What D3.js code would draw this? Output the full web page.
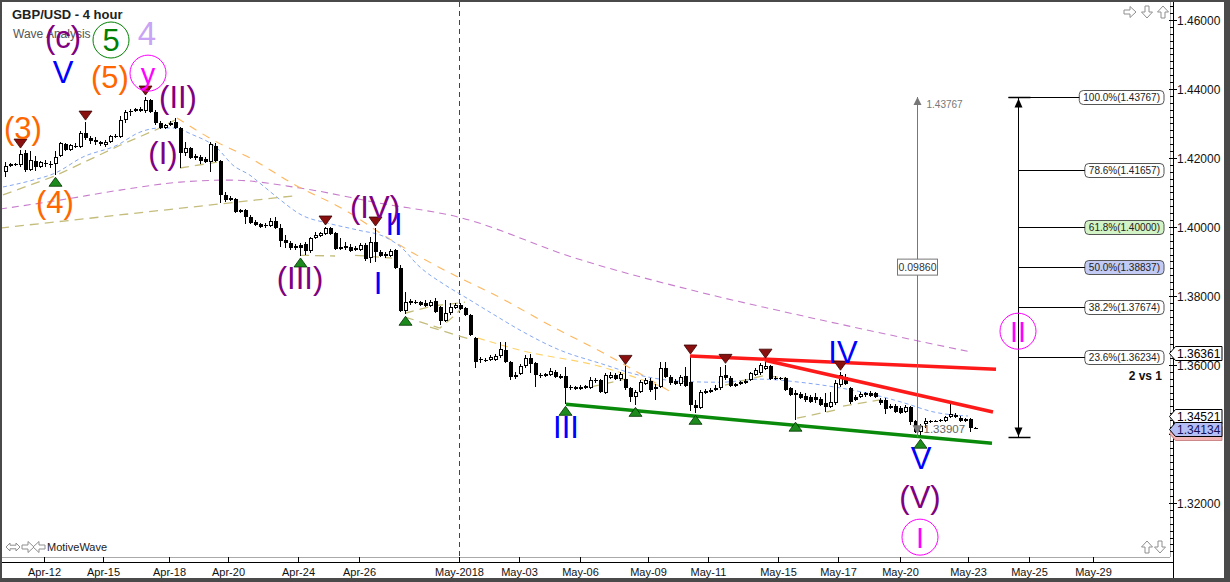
<!DOCTYPE html>
<html><head><meta charset="utf-8">
<script src="https://cdn.jsdelivr.net/npm/d3@7"></script>
<style>
body{margin:0;background:#fff;overflow:hidden}
svg{display:block}
text{font-family:"Liberation Sans",Arial,sans-serif}
</style>
</head><body>
<svg id="c" width="1230" height="582"></svg>
<script>
// ---------------- DATA ----------------
// 4-hour GBP/USD candles [open, high, low, close], oldest first
const ohlc = [
[1.4159,1.4188,1.4145,1.4177],[1.4177,1.4185,1.4174,1.4182],[1.4179,1.4185,1.4177,1.4182],[1.4179,1.4223,1.4174,1.4211],
[1.4214,1.4223,1.4159,1.4165],[1.4165,1.4220,1.4162,1.4194],[1.4191,1.4206,1.4162,1.4174],[1.4174,1.4191,1.4171,1.4188],
[1.4185,1.4194,1.4174,1.4182],[1.4182,1.4191,1.4171,1.4179],[1.4182,1.4220,1.4150,1.4203],[1.4206,1.4246,1.4203,1.4243],
[1.4240,1.4243,1.4220,1.4223],[1.4223,1.4240,1.4220,1.4237],[1.4234,1.4243,1.4229,1.4232],[1.4232,1.4278,1.4229,1.4272],
[1.4272,1.4304,1.4252,1.4258],[1.4258,1.4264,1.4240,1.4249],[1.4252,1.4261,1.4237,1.4246],[1.4246,1.4249,1.4234,1.4240],
[1.4237,1.4252,1.4232,1.4246],[1.4246,1.4267,1.4243,1.4264],[1.4264,1.4269,1.4258,1.4261],[1.4261,1.4322,1.4258,1.4310],
[1.4310,1.4339,1.4301,1.4333],[1.4333,1.4342,1.4322,1.4336],[1.4336,1.4345,1.4333,1.4342],[1.4342,1.4348,1.4333,1.4336],
[1.4336,1.43767,1.4330,1.4368],[1.4368,1.4371,1.4330,1.4333],[1.4333,1.4339,1.4295,1.4301],[1.4301,1.4307,1.4284,1.4287],
[1.4287,1.4298,1.4284,1.4295],[1.4295,1.4307,1.4293,1.4301],[1.4304,1.4316,1.4284,1.4287],[1.4287,1.4290,1.4171,1.4214],
[1.4214,1.4246,1.4206,1.4229],[1.4229,1.4232,1.4197,1.4200],[1.4206,1.4211,1.4194,1.4200],[1.4203,1.4208,1.4182,1.4191],
[1.4197,1.4203,1.4185,1.4188],[1.4188,1.4246,1.4159,1.4240],[1.4234,1.4243,1.4188,1.4191],[1.4191,1.4194,1.4069,1.4093],
[1.4093,1.4101,1.4072,1.4078],[1.4078,1.4090,1.4075,1.4084],[1.4081,1.4084,1.4040,1.4043],[1.4043,1.4052,1.4040,1.4049],
[1.4049,1.4052,1.4008,1.4029],[1.4029,1.4034,1.4008,1.4011],[1.4014,1.4020,1.4003,1.4005],[1.4008,1.4011,1.3997,1.4000],
[1.4003,1.4011,1.3997,1.4005],[1.4003,1.4026,1.4000,1.4017],[1.4017,1.4029,1.3994,1.3997],[1.3997,1.4008,1.3942,1.3959],
[1.3962,1.3977,1.3939,1.3953],[1.3953,1.3959,1.3933,1.3939],[1.3945,1.3950,1.3933,1.3939],[1.3947,1.3953,1.3916,1.3939],
[1.3950,1.3956,1.3918,1.3930],[1.3930,1.3971,1.3924,1.3968],[1.3968,1.3985,1.3965,1.3977],[1.3974,1.3985,1.3971,1.3982],
[1.3979,1.4000,1.3977,1.3997],[1.3997,1.4000,1.3977,1.3979],[1.3982,1.3985,1.3933,1.3936],[1.3942,1.3968,1.3933,1.3936],
[1.3939,1.3956,1.3933,1.3945],[1.3942,1.3950,1.3927,1.3930],[1.3939,1.3945,1.3930,1.3933],[1.3933,1.3953,1.3930,1.3947],
[1.3947,1.3953,1.3901,1.3907],[1.3910,1.3971,1.3895,1.3956],[1.3956,1.3997,1.3898,1.3927],[1.3927,1.3933,1.3913,1.3916],
[1.3921,1.3927,1.3910,1.3916],[1.3916,1.3936,1.3913,1.3930],[1.3933,1.3936,1.3878,1.3881],[1.3881,1.3889,1.3753,1.3756],
[1.3756,1.3811,1.3747,1.3782],[1.3785,1.3791,1.3773,1.3779],[1.3782,1.3788,1.3776,1.3779],[1.3782,1.3785,1.3771,1.3773],
[1.3779,1.3788,1.3768,1.3771],[1.3771,1.3788,1.3768,1.3782],[1.3785,1.3794,1.3750,1.3753],[1.3768,1.3771,1.3715,1.3727],
[1.3727,1.3788,1.3724,1.3750],[1.3750,1.3779,1.3744,1.3768],[1.3765,1.3779,1.3762,1.3773],[1.3773,1.3779,1.3759,1.3762],
[1.3765,1.3768,1.3741,1.3744],[1.3744,1.3747,1.3684,1.3687],[1.3678,1.3681,1.3591,1.3608],[1.3614,1.3623,1.3605,1.3617],
[1.3614,1.3620,1.3608,1.3611],[1.3614,1.3629,1.3611,1.3623],[1.3614,1.3632,1.3611,1.3626],[1.3626,1.3666,1.3620,1.3646],
[1.3643,1.3666,1.3605,1.3608],[1.3608,1.3611,1.3556,1.3565],[1.3570,1.3579,1.3559,1.3565],[1.3573,1.3602,1.3570,1.3596],
[1.3596,1.3629,1.3591,1.3620],[1.3620,1.3632,1.3576,1.3602],[1.3605,1.3608,1.3536,1.3570],[1.3570,1.3576,1.3562,1.3567],
[1.3567,1.3576,1.3565,1.3573],[1.3570,1.3591,1.3567,1.3582],[1.3579,1.3585,1.3562,1.3565],[1.3567,1.3573,1.3559,1.3562],
[1.3567,1.3594,1.3486,1.3533],[1.3536,1.3542,1.3527,1.3533],[1.3530,1.3539,1.3527,1.3536],[1.3536,1.3542,1.3527,1.3530],
[1.3539,1.3542,1.3530,1.3533],[1.3533,1.3565,1.3530,1.3556],[1.3556,1.3562,1.3547,1.3553],[1.3556,1.3559,1.3518,1.3521],
[1.3518,1.3576,1.3515,1.3570],[1.3562,1.3579,1.3559,1.3570],[1.3570,1.3576,1.3556,1.3559],[1.3559,1.3579,1.3553,1.3573],
[1.3559,1.3596,1.3527,1.3533],[1.3533,1.3536,1.3492,1.3507],[1.3507,1.3527,1.3483,1.3521],[1.3521,1.3556,1.3518,1.3550],
[1.3544,1.3562,1.3542,1.3556],[1.3553,1.3562,1.3521,1.3527],[1.3530,1.3544,1.3498,1.3536],[1.3536,1.3608,1.3533,1.3591],
[1.3591,1.3608,1.3562,1.3565],[1.3565,1.3570,1.3542,1.3547],[1.3553,1.3559,1.3542,1.3544],[1.3544,1.3570,1.3539,1.3565],
[1.3567,1.3594,1.3536,1.3539],[1.3550,1.3626,1.3466,1.3484],[1.3484,1.3498,1.3460,1.3475],[1.3475,1.3527,1.3472,1.3521],
[1.3524,1.3530,1.3515,1.3518],[1.3521,1.3533,1.3518,1.3527],[1.3527,1.3542,1.3524,1.3533],[1.3533,1.3594,1.3527,1.3567],
[1.3570,1.3599,1.3556,1.3562],[1.3562,1.3567,1.3536,1.3539],[1.3539,1.3547,1.3536,1.3544],[1.3544,1.3553,1.3542,1.3550],
[1.3547,1.3559,1.3544,1.3553],[1.3556,1.3579,1.3553,1.3576],[1.3570,1.3591,1.3567,1.3585],[1.3576,1.3605,1.3570,1.3599],
[1.3588,1.3614,1.3585,1.3596],[1.3596,1.3599,1.3556,1.3559],[1.3562,1.3567,1.3556,1.3559],[1.3562,1.3565,1.3556,1.3559],
[1.3562,1.3565,1.3524,1.3527],[1.3533,1.3536,1.3510,1.3513],[1.3518,1.3527,1.3440,1.3513],[1.3515,1.3521,1.3501,1.3504],
[1.3510,1.3518,1.3492,1.3498],[1.3507,1.3513,1.3489,1.3492],[1.3507,1.3518,1.3489,1.3498],[1.3501,1.3507,1.3481,1.3484],
[1.3489,1.3518,1.3463,1.3478],[1.3478,1.3521,1.3475,1.3492],[1.3489,1.3556,1.3484,1.3547],[1.3542,1.3579,1.3536,1.3570],
[1.3565,1.3573,1.3542,1.3544],[1.3533,1.3536,1.3486,1.3492],[1.3507,1.3513,1.3495,1.3498],[1.3507,1.3521,1.3504,1.3515],
[1.3513,1.3521,1.3507,1.3518],[1.3518,1.3524,1.3507,1.3510],[1.3518,1.3521,1.3504,1.3507],[1.3498,1.3504,1.3484,1.3489],
[1.3498,1.3504,1.3457,1.3472],[1.3481,1.3486,1.3472,1.3475],[1.3481,1.3486,1.3460,1.3463],[1.3475,1.3481,1.3457,1.3460],
[1.3463,1.3484,1.3460,1.3478],[1.3478,1.3481,1.3425,1.3434],[1.3437,1.3440,1.3402,1.3405],[1.3405,1.3428,1.33907,1.3423],
[1.3428,1.3446,1.3417,1.3437],[1.3437,1.3440,1.3431,1.3436],[1.3437,1.3440,1.3434,1.3438],[1.3437,1.3443,1.3434,1.3440],
[1.3437,1.3452,1.3434,1.3449],[1.3449,1.3489,1.3446,1.3457],[1.3455,1.3460,1.3446,1.3449],[1.3446,1.3452,1.3434,1.3437],
[1.3437,1.3446,1.3434,1.3443],[1.3443,1.3446,1.3405,1.3417],[1.3417,1.3420,1.3414,1.34134]
];

// date axis: labels and the (fractional) candle index where each day starts
const dateLabels = ["Apr-12","Apr-15","Apr-18","Apr-20","Apr-24","Apr-26","May-2018","May-03","May-06","May-09","May-11","May-15","May-17","May-20","May-23","May-25","May-29"];
const dateIndex  = [7.7,19.6,32.8,44.6,58.6,70.7,90.7,102.7,115,128.6,140.6,154.6,166.6,179,192.6,204.7,217.6];
const monthBreakIndex = 90.7;

// price axis
const priceTicks = [1.32,1.34,1.36,1.38,1.40,1.42,1.44,1.46];
const minorStep = 0.002;

// moving averages / guide lines: [candle index, price]
const maSlow = [[-1,1.4052],[11,1.4078],[23,1.4107],[35,1.4130],[45,1.4136],[59,1.4113],[75,1.4069],[90.6,1.4029],[114,1.3910],[139,1.3811],[159,1.3744],[179,1.3681],[193.4,1.3637]];
const maFast = [[-0.4,1.4116],[5.6,1.4136],[10,1.4156],[15.6,1.4203],[22.4,1.4237],[27,1.4275],[31,1.4287],[33.6,1.4287],[37.6,1.4267],[42.4,1.4229],[45.6,1.4179],[49,1.4150],[51.4,1.4122],[54.6,1.4084],[59.4,1.4034],[64.6,1.4011],[70.6,1.3991],[76,1.3971],[79.4,1.3939],[82.6,1.3889],[88,1.3832],[92,1.3797],[98,1.3744],[103,1.3701],[111,1.3643],[119,1.3605],[127,1.3570],[135,1.3553],[143,1.3550],[151,1.3559],[159,1.3550],[166,1.3536],[172.6,1.3518],[179.4,1.3492],[186,1.3463],[192.6,1.34521]];
const maMid = [[34.4,1.4316],[42.4,1.4246],[49,1.4200],[58,1.4122],[68,1.4049],[76.6,1.3968],[83.4,1.3910],[90.6,1.3855],[98,1.3803],[109,1.3715],[120.4,1.3629],[133.6,1.3518]];
const maShort = [[94.6,1.3678],[103,1.3643],[119,1.3596],[131,1.3539]];
const zigzags = [
 [[-1,1.3997],[57.6,1.4090]],
 [[-0.4,1.4093],[10,1.4148],[23,1.4237],[31,1.4287],[34,1.4310]],
 [[35,1.4171],[42.4,1.4188]],
 [[59,1.3918],[66,1.3916]],
 [[70,1.3918],[77.4,1.3910]],
 [[80,1.3750],[85.4,1.3771],[92,1.3782]],
 [[80,1.3739],[87,1.3707],[90.4,1.3750],[92,1.3779]],
 [[85,1.3710],[93.6,1.3672]],
 [[117,1.3536],[124,1.3559]],
 [[144,1.3542],[152,1.3570],[156.2,1.3562]],
 [[158.4,1.3446],[166,1.3469]],
 [[167.6,1.3481],[176,1.3501]]
];

// trend lines
const resistanceLines = [[[137,1.3626],[198.2,1.3588]],[[152,1.3614],[197.6,1.3464]]];
const supportLine = [[112.2,1.3486],[197.4,1.3373]];

// swing markers (candle indices)
const swingHighs = [3,16,28,64,74,124,137,144,152,167];
const swingLows  = [10,59,80,112,126,138,158,183];

// wave labels
const waveLabels = [
 {t:"(c)",i:11.6,p:1.4551,deg:"intermediate"},
 {t:"5",i:21.2,p:1.4542,deg:"cycle"},
 {t:"4",i:28.4,p:1.4562,deg:"supercycle"},
 {t:"V",i:11.6,p:1.4449,deg:"minute"},
 {t:"(5)",i:21,p:1.4435,deg:"minor"},
 {t:"y",i:28.6,p:1.4446,deg:"primary"},
 {t:"(II)",i:34.6,p:1.4377,deg:"intermediate"},
 {t:"(3)",i:3.6,p:1.4287,deg:"minor"},
 {t:"(I)",i:31.6,p:1.4214,deg:"intermediate"},
 {t:"(4)",i:10,p:1.4072,deg:"minor"},
 {t:"(IV)",i:74,p:1.4058,deg:"intermediate"},
 {t:"II",i:77.8,p:1.4008,deg:"minute"},
 {t:"(III)",i:59,p:1.3852,deg:"intermediate"},
 {t:"I",i:74.6,p:1.3837,deg:"minute"},
 {t:"III",i:112.2,p:1.3420,deg:"minute"},
 {t:"IV",i:167.6,p:1.3637,deg:"minute"},
 {t:"V",i:183.2,p:1.3330,deg:"minute"},
 {t:"(V)",i:183,p:1.3217,deg:"intermediate"},
 {t:"I",i:183,p:1.3101,deg:"primary"},
 {t:"II",i:202.6,p:1.3698,deg:"primary"}
];

// fibonacci retracement and measurement
const fibHigh = 1.43767, fibLow = 1.33907;
const fibRatios = [1.0,0.786,0.618,0.5,0.382,0.236];
const fibIndex = 202.6;
const measureIndex = 182.4;
const fibNote = "2 vs 1";

// price tags on the axis
const axisTags = [{v:1.3404,kind:"bid"},{v:1.36361,kind:"ma"},{v:1.34521,kind:"ma"},{v:1.34134,kind:"last"}];

// ---------------- STYLES ----------------
const degreeStyle = {
 intermediate:{color:"#800080",size:31},
 minor:{color:"#ff6600",size:31},
 minute:{color:"#0000ff",size:31},
 primary:{color:"#ff00ff",size:29,circle:true},
 cycle:{color:"#008000",size:31,circle:true},
 supercycle:{color:"#c9a3f5",size:33}
};

// ---------------- DRAW ----------------
const W=1230,H=582;
const svg=d3.select("#c");
const x=d3.scaleLinear().domain([0,194]).range([5,975]);
const y=d3.scaleLinear().domain([1.46,1.32]).range([20,503]);
const plotR=1170, plotB=557, axX=1173.5, axY=562.5;

svg.append("rect").attr("width",W).attr("height",H).attr("fill","#4a4a4a");
svg.append("rect").attr("x",2).attr("y",2).attr("width",1222).attr("height",576).attr("fill","#fff");

const defs=svg.append("defs");
defs.append("clipPath").attr("id","plotclip").append("rect").attr("x",2).attr("y",2).attr("width",plotR-2).attr("height",plotB-2);

// title
svg.append("text").attr("x",12).attr("y",19).attr("font-size",13).attr("font-weight","bold").attr("fill","#222").text("GBP/USD - 4 hour");
svg.append("text").attr("x",13).attr("y",38).attr("font-size",12).attr("fill","#555").text("Wave Analysis");

const g=svg.append("g").attr("clip-path","url(#plotclip)");

// month separator
g.append("line").attr("x1",Math.round(x(monthBreakIndex))+0.5).attr("x2",Math.round(x(monthBreakIndex))+0.5)
 .attr("y1",2).attr("y2",plotB).attr("stroke","#444").attr("stroke-dasharray","5,4");

const line=d3.line().x(d=>x(d[0])).y(d=>y(d[1]));
const smooth=d3.line().x(d=>x(d[0])).y(d=>y(d[1])).curve(d3.curveMonotoneX);

g.append("path").attr("d",smooth(maSlow)).attr("fill","none").attr("stroke","#c77dcc").attr("stroke-width",1.1).attr("stroke-dasharray","7,5");
g.append("path").attr("d",smooth(maMid)).attr("fill","none").attr("stroke","#ffb65c").attr("stroke-width",1.1).attr("stroke-dasharray","8,7");
g.append("path").attr("d",smooth(maShort)).attr("fill","none").attr("stroke","#ffd36a").attr("stroke-width",1.1).attr("stroke-dasharray","7,5");
g.append("path").attr("d",smooth(maFast)).attr("fill","none").attr("stroke","#86a8f2").attr("stroke-width",1).attr("stroke-dasharray","4,3");
zigzags.forEach(z=>{
 g.append("path").attr("d",line(z)).attr("fill","none").attr("stroke","#c4bd7c").attr("stroke-width",1.3).attr("stroke-dasharray","9,6");
});

// candles
const cg=g.append("g").attr("shape-rendering","crispEdges");
ohlc.forEach((d,i)=>{
 const [o,h,l,c]=d;
 const cx=Math.round(x(i));
 const yh=Math.round(y(h)), yl=Math.round(y(l));
 cg.append("rect").attr("x",cx).attr("y",yh).attr("width",1).attr("height",Math.max(1,yl-yh)).attr("fill","#000");
 const top=Math.round(y(Math.max(o,c))), bot=Math.round(y(Math.min(o,c)));
 const hh=Math.max(1,bot-top);
 cg.append("rect").attr("x",cx-1).attr("y",top).attr("width",4).attr("height",hh).attr("fill","#000");
 if(c>o && hh>2){
   cg.append("rect").attr("x",cx).attr("y",top+1).attr("width",2).attr("height",hh-2).attr("fill","#fff");
 }
});

// trend lines
resistanceLines.forEach(r=>{
 g.append("path").attr("d",line(r)).attr("stroke","#ff1a1a").attr("stroke-width",3.5).attr("fill","none");
});
g.append("path").attr("d",line(supportLine)).attr("stroke","#0a8a0a").attr("stroke-width",3.5).attr("fill","none");

// swing markers
swingHighs.forEach(i=>{
 const cx=Math.round(x(i))+0.5, yy=y(ohlc[i][1])-2;
 g.append("path").attr("d",`M${cx-6.5},${yy-9}L${cx+6.5},${yy-9}L${cx},${yy}Z`).attr("fill","#8a1010").attr("stroke","#3a0000").attr("stroke-width",0.8);
});
swingLows.forEach(i=>{
 const cx=Math.round(x(i))+0.5, yy=y(ohlc[i][2])+2;
 g.append("path").attr("d",`M${cx-6.5},${yy+9}L${cx+6.5},${yy+9}L${cx},${yy}Z`).attr("fill","#1d8a1d").attr("stroke","#003300").attr("stroke-width",0.8);
});

// measurement tool
const mx=Math.round(x(measureIndex))+0.5;
g.append("line").attr("x1",mx).attr("x2",mx).attr("y1",y(fibHigh)).attr("y2",y(fibLow)).attr("stroke","#777").attr("stroke-width",1);
g.append("path").attr("d",`M${mx-4},${y(fibHigh)+8}L${mx+4},${y(fibHigh)+8}L${mx},${y(fibHigh)}Z`).attr("fill","#777");
g.append("path").attr("d",`M${mx-5},${y(fibLow)-12}L${mx+5},${y(fibLow)-12}L${mx},${y(fibLow)-3}Z`).attr("fill","#777");
g.append("text").attr("x",mx+9).attr("y",y(fibHigh)+11).attr("font-size",10).attr("fill","#777").text(fibHigh.toFixed(5));
g.append("text").attr("x",mx+6).attr("y",y(fibLow)-4).attr("font-size",11.5).attr("fill","#666").text(fibLow.toFixed(5));
const diffTxt=(fibHigh-fibLow).toFixed(5);
const midY=y((fibHigh+fibLow)/2);
g.append("rect").attr("x",mx-20).attr("y",midY-8).attr("width",40).attr("height",16).attr("fill","#fff").attr("stroke","#777");
g.append("text").attr("x",mx).attr("y",midY+4).attr("font-size",10.5).attr("text-anchor","middle").attr("fill","#333").text(diffTxt);

// fibonacci retracement
const fx=Math.round(x(fibIndex))+0.5;
const fg=g.append("g");
fg.append("line").attr("x1",fx).attr("x2",fx).attr("y1",y(fibHigh)).attr("y2",y(fibLow)).attr("stroke","#000");
[fibHigh,fibLow].forEach((p,k)=>{
 const yy=Math.round(y(p))+0.5;
 fg.append("line").attr("x1",fx-10).attr("x2",fx+12).attr("y1",yy).attr("y2",yy).attr("stroke","#000").attr("stroke-width",1.5);
 const dir=k===0?1:-1;
 fg.append("path").attr("d",`M${fx-4},${yy+dir*10}L${fx+4},${yy+dir*10}L${fx},${yy+dir*1}Z`).attr("fill","#000");
});
const labelRight=1164;
fibRatios.forEach(r=>{
 const p=fibLow+r*(fibHigh-fibLow);
 const yy=Math.round(y(p))+0.5;
 const t=fg.append("text").attr("x",labelRight-4).attr("y",yy+3.5).attr("font-size",10).attr("text-anchor","end").attr("fill","#222")
   .text((r*100).toFixed(1)+"%("+p.toFixed(5)+")");
 const w=t.node().getComputedTextLength();
 const bx=labelRight-w-8;
 const fill=r===0.618?"#d2f3c6":(r===0.5?"#c3cbf4":"#fff");
 fg.insert("rect","text").attr("x",bx).attr("y",yy-7).attr("width",w+8).attr("height",14).attr("rx",4).attr("fill",fill).attr("stroke","#555");
 fg.append("line").attr("x1",r===1?fx-10:fx).attr("x2",bx).attr("y1",yy).attr("y2",yy).attr("stroke","#000");
 if(r===0.236){
   fg.append("text").attr("x",labelRight-2).attr("y",yy+22).attr("font-size",12).attr("font-weight","bold").attr("text-anchor","end").attr("fill","#111").text(fibNote);
 }
});

// wave labels
const lg=g.append("g");
waveLabels.forEach(d=>{
 const s=degreeStyle[d.deg];
 const cx=x(d.i), cy=y(d.p);
 if(s.circle){
   lg.append("circle").attr("cx",cx).attr("cy",cy).attr("r",18).attr("fill","none").attr("stroke",s.color).attr("stroke-width",1);
 }
 lg.append("text").attr("x",cx).attr("y",cy+s.size*0.36).attr("text-anchor","middle").attr("font-size",s.size).attr("fill",s.color).text(d.t);
});

// hollow navigation arrows (icons)
const arrowShape="M-6,-2L0,-2L0,-5.5L6,0L0,5.5L0,2L-6,2Z";
const dblShape="M-7,0L-3,-4L-3,-1.8L3,-1.8L3,-4L7,0L3,4L3,1.8L-3,1.8L-3,4Z";
function icon(shape,cx,cy,rot){
 svg.append("path").attr("d",shape).attr("transform",`translate(${cx},${cy}) rotate(${rot})`)
  .attr("fill","#fff").attr("stroke","#8f8f8f").attr("stroke-width",1);
}
icon(arrowShape,1130,12,0); icon(arrowShape,1147,12,90); icon(arrowShape,1163,12,-90);
icon(arrowShape,1147,547,-90); icon(arrowShape,1160,547,90);
icon(dblShape,13,547,0); icon(arrowShape,28,547,0); icon(arrowShape,39,547,180);
svg.append("text").attr("x",47).attr("y",551).attr("font-size",11).attr("fill","#222").text("MotiveWave");

// plot borders & axes
const ag=svg.append("g").attr("shape-rendering","crispEdges");
ag.append("line").attr("x1",2).attr("x2",plotR).attr("y1",plotB+0.5).attr("y2",plotB+0.5).attr("stroke","#aaa");
ag.append("line").attr("x1",plotR+0.5).attr("x2",plotR+0.5).attr("y1",2).attr("y2",plotB).attr("stroke","#aaa");
ag.append("line").attr("x1",2).attr("x2",axX).attr("y1",axY).attr("y2",axY).attr("stroke","#000");
ag.append("line").attr("x1",axX).attr("x2",axX).attr("y1",2).attr("y2",578).attr("stroke","#000");

// date ticks
dateLabels.forEach((lab,k)=>{
 const xx=Math.round(x(dateIndex[k]))+0.5;
 ag.append("line").attr("x1",xx).attr("x2",xx).attr("y1",plotB).attr("y2",axY).attr("stroke","#000");
 svg.append("text").attr("x",xx).attr("y",576).attr("text-anchor","middle").attr("font-size",11).attr("fill","#111").text(lab);
});

// price ticks
for(let v=1.30; v<=1.47; v+=minorStep){
 const yy=Math.round(y(v))+0.5;
 if(yy<4||yy>556) continue;
 ag.append("line").attr("x1",plotR).attr("x2",axX).attr("y1",yy).attr("y2",yy).attr("stroke","#000");
}
priceTicks.forEach(v=>{
 const yy=Math.round(y(v))+0.5;
 ag.append("line").attr("x1",plotR-1).attr("x2",axX+3).attr("y1",yy).attr("y2",yy).attr("stroke","#000");
 // labels hidden where an axis tag covers them
 const covered=axisTags.some(t=>Math.abs(y(t.v)-y(v))<9);
 if(!covered) svg.append("text").attr("x",1177).attr("y",yy+4.5).attr("font-size",12).attr("fill","#111").text(v.toFixed(5));
});

// axis tags (the bid tag sits underneath the last-price tag)
const tagFill={bid:"#f2b6b6",ma:"#fff",last:"#b6bff3"};
axisTags.forEach(t=>{
 const yy=Math.round(y(t.v))+0.5;
 svg.append("path").attr("d",`M${axX-4},${yy}L${axX+2},${yy-7}L1222,${yy-7}L1222,${yy+7}L${axX+2},${yy+7}Z`)
   .attr("fill",tagFill[t.kind]).attr("stroke",t.kind==="bid"?"#c88":"#000").attr("stroke-width",1);
 if(t.kind!=="bid") svg.append("text").attr("x",1177).attr("y",yy+4.5).attr("font-size",12).attr("fill",t.kind==="last"?"#11115a":"#000").text(t.v.toFixed(5));
});
</script>
</body></html>
